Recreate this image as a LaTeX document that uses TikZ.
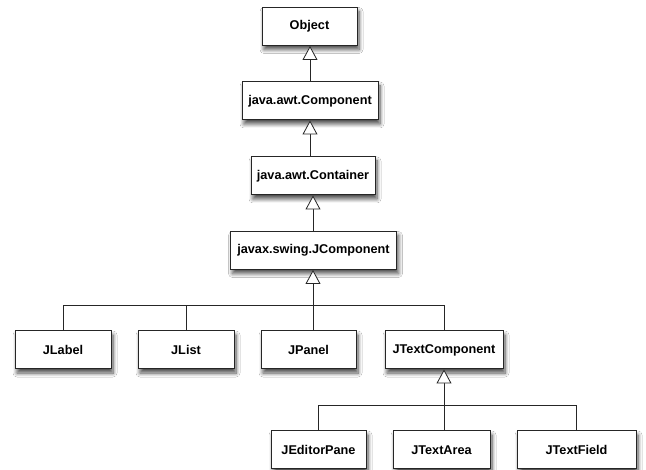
\documentclass[tikz,border=0pt]{standalone}
\usepackage{fontspec}
\setmainfont{Liberation Sans}
\usetikzlibrary{arrows.meta,shadows.blur}
\begin{document}
\begin{tikzpicture}[x=1pt,y=-1pt,
  cls/.style={draw=black!85, line width=1pt, fill=white, inner sep=0pt,
    minimum height=38pt, align=center,
    font=\fontsize{12.7}{15}\selectfont\bfseries,
    blur shadow={shadow xshift=2pt, shadow yshift=-4pt, shadow blur radius=4pt, shadow blur steps=8, shadow opacity=70}},
  link/.style={draw=black!85, line width=0.8pt},
  inh/.style={link, -{Triangle[open, length=14pt, width=15pt, fill=white]}}]
\path[use as bounding box, fill=white] (0,0) rectangle (646,470);

\node[cls, minimum width=95pt]  (obj)  at (309.5,26.5) {Object};
\node[cls, minimum width=136pt] (comp) at (310,101) {java.awt.Component};
\node[cls, minimum width=124pt] (cont) at (313,176) {java.awt.Container};
\node[cls, minimum width=166pt] (jcomp) at (313.5,250.5) {javax.swing.JComponent};

\node[cls, minimum width=96pt]  (jlabel) at (63,350) {JLabel};
\node[cls, minimum width=96pt]  (jlist)  at (186,350) {JList};
\node[cls, minimum width=95pt]  (jpanel) at (308.5,350) {JPanel};
\node[cls, minimum width=118pt] (jtc)    at (444,350) {JTextComponent};

\node[cls, minimum width=95pt]  (jedit)  at (318.5,450) {JEditorPane};
\node[cls, minimum width=97pt]  (jarea)  at (441.5,450) {JTextArea};
\node[cls, minimum width=119pt] (jfield) at (576.5,450) {JTextField};

\coordinate (bus1) at (313,305);
\coordinate (bus2) at (444,405);

\draw[inh] (comp.north) -- (comp.north |- obj.south);
\draw[inh] (cont.north) -- (cont.north -| 310,0) -- (comp.south -| 310,0);
\draw[inh] (jcomp.north -| 313,0) -- (cont.south -| 313,0);

\draw[link] (jlabel.north) |- (bus1);
\draw[link] (jtc.north) |- (bus1);
\draw[link] (jlist.north) -- (jlist.north |- bus1);
\draw[inh] (jpanel.north -| bus1) -- (jcomp.south -| bus1);

\draw[link] (jedit.north) |- (bus2);
\draw[link] (jfield.north) |- (bus2);
\draw[inh] (jarea.north -| bus2) -- (jtc.south -| bus2);
\end{tikzpicture}
\end{document}
